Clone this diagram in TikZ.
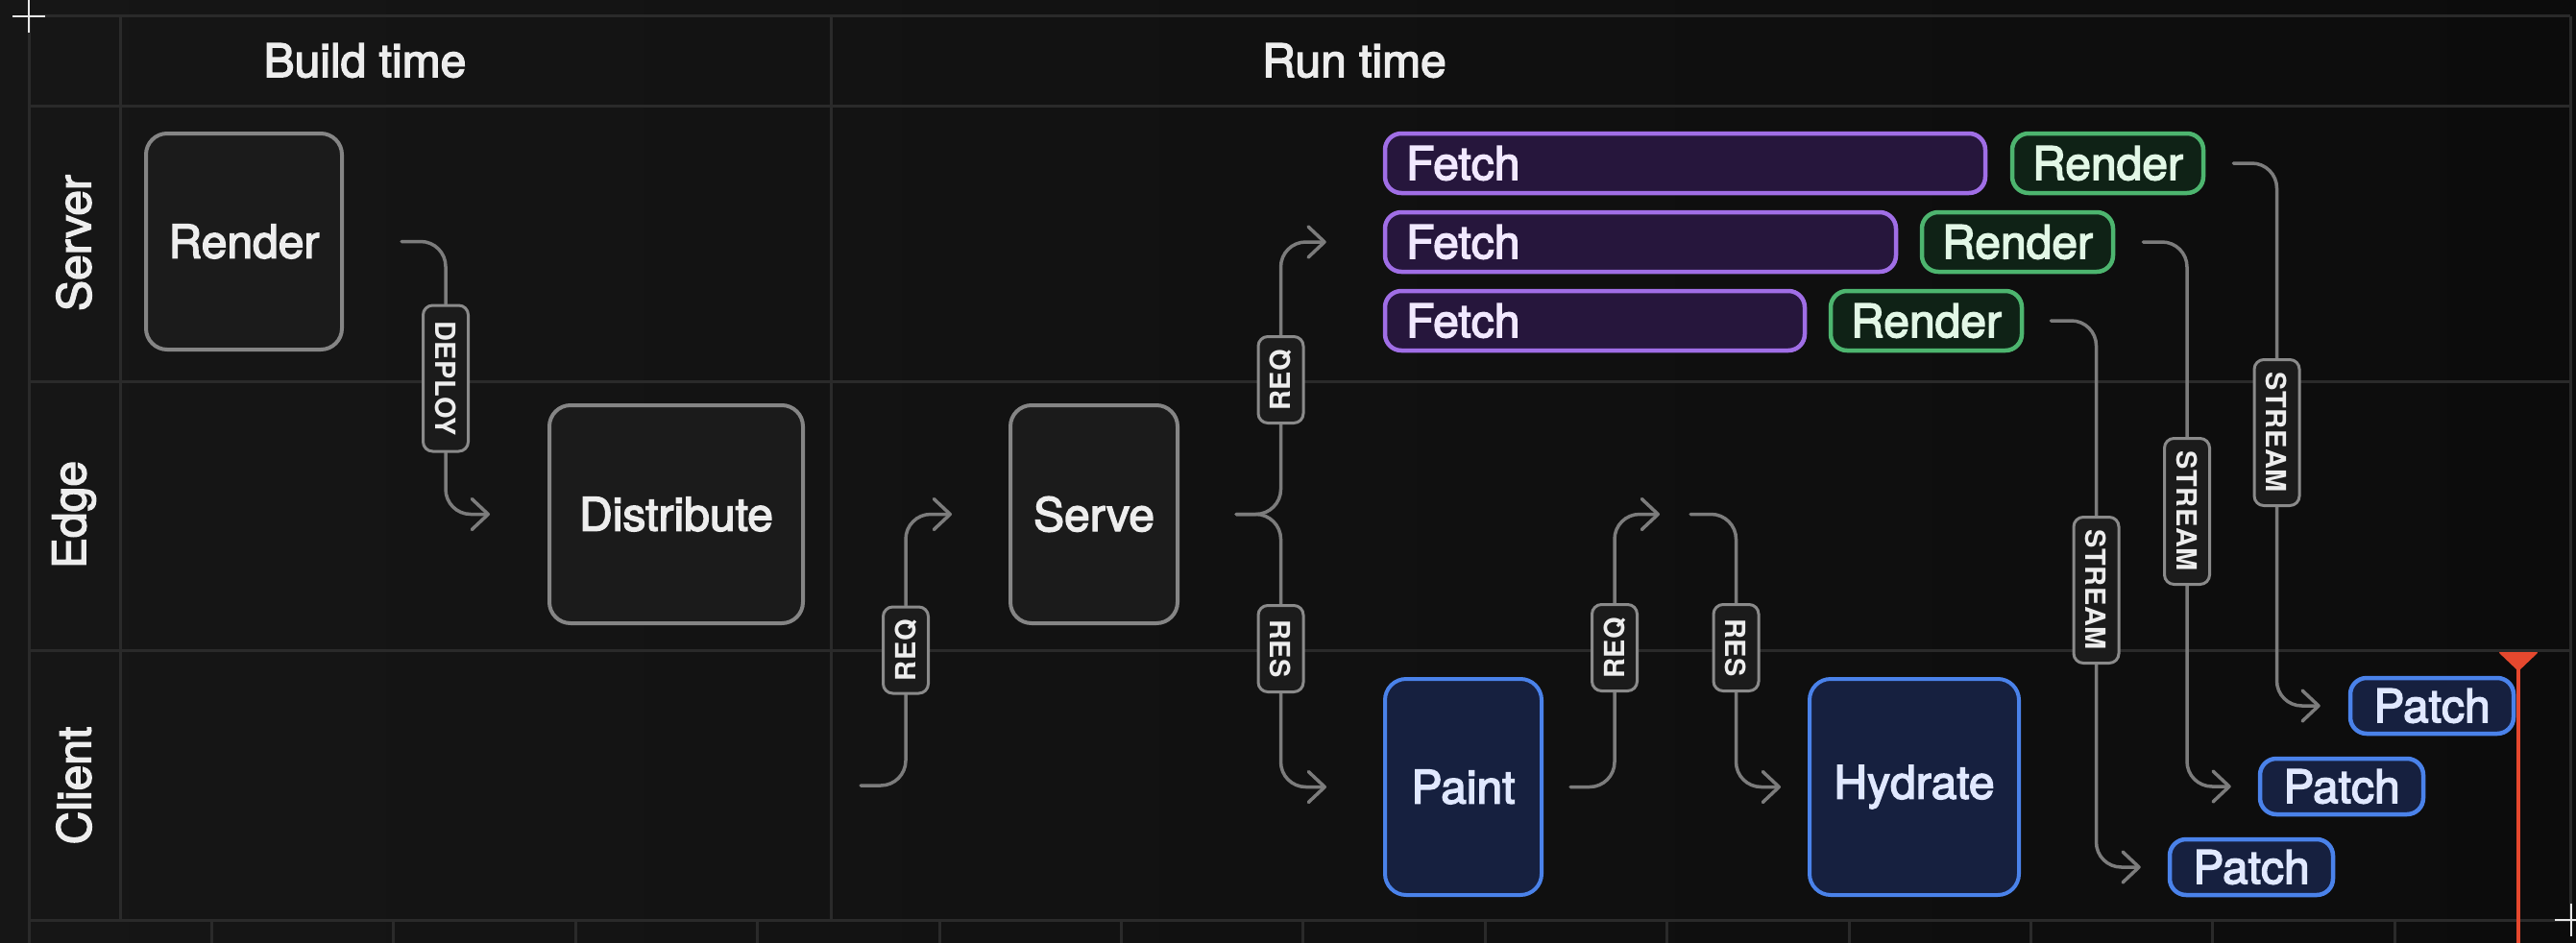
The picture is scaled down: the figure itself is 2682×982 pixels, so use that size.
\documentclass[tikz,border=0pt]{standalone}
\usepackage{fontspec}
\usepackage{graphicx}
\setmainfont{TeX Gyre Heros}
\newfontfamily\medf{TeX Gyre Heros}[FakeBold=3]
\newfontfamily\tagf{TeX Gyre Heros Bold}[LetterSpace=2]
\usetikzlibrary{arrows.meta}
\pgfdeclarelayer{back}
\pgfdeclarelayer{wires}
\pgfsetlayers{back,wires,main}
\definecolor{bgL}{HTML}{161616}
\definecolor{bgR}{HTML}{0C0C0C}
\definecolor{gridc}{HTML}{2A2A2A}
\definecolor{wire}{HTML}{7C7C7C}
\definecolor{grayedge}{HTML}{858585}
\definecolor{tagedge}{HTML}{8A8A8A}
\definecolor{grayfill}{HTML}{1B1B1B}
\definecolor{purpedge}{HTML}{A06EE6}
\definecolor{purpfill}{HTML}{26163C}
\definecolor{greenedge}{HTML}{4DB56F}
\definecolor{greenfill}{HTML}{0F2216}
\definecolor{blueedge}{HTML}{4A82EA}
\definecolor{bluefill}{HTML}{16203F}
\definecolor{redc}{HTML}{E5482E}
\definecolor{txt}{HTML}{EDEDED}
\definecolor{fetchtxt}{HTML}{F1E8FF}
\definecolor{rendertxt}{HTML}{E2F7E6}
\definecolor{bluetxt}{HTML}{E0E8FF}
\definecolor{plusc}{HTML}{E8E8E8}
\newcommand\mytagfont{\tagf\fontsize{29}{34}\selectfont}
\newcommand\mybigfont{\medf\fontsize{48}{58}\selectfont}
\begin{document}
\begin{tikzpicture}[x=1pt,y=-1pt,
  gridline/.style={draw=gridc, line width=3pt},
  bigbox/.style={draw=grayedge, fill=grayfill, line width=4pt, rounded corners=22pt, inner sep=0pt, text=txt, font=\mybigfont},
  clientbox/.style={bigbox, draw=blueedge, fill=bluefill, text=bluetxt},
  fetchbox/.style={draw=purpedge, fill=purpfill, line width=4.5pt, rounded corners=17pt, inner xsep=22pt, inner ysep=0pt, minimum height=62pt, align=left, text=fetchtxt, font=\mybigfont},
  renderbox/.style={draw=greenedge, fill=greenfill, line width=4.5pt, rounded corners=17pt, inner sep=0pt, minimum width=199pt, minimum height=62pt, text=rendertxt, font=\mybigfont},
  patchbox/.style={draw=blueedge, fill=bluefill, line width=4.5pt, rounded corners=17pt, inner sep=0pt, minimum width=170pt, minimum height=58pt, text=bluetxt, font=\mybigfont},
  tag/.style={draw=tagedge, fill=grayfill, line width=3pt, rounded corners=10pt, inner sep=0pt, minimum width=47pt, text=txt, font=\mytagfont},
  shorttag/.style={tag, minimum height=90pt},
  longtag/.style={tag, minimum height=152pt},
  conn/.style={draw=wire, line width=3.5pt, rounded corners=26pt, line cap=round},
  arr/.style={-{Straight Barb[length=17pt,width=32pt,round]}},
  hdr/.style={text=txt, font=\mybigfont, inner sep=0pt}
]
\useasboundingbox (0,0) rectangle (2682,982);
\begin{pgfonlayer}{back}
  \shade[left color=bgL, right color=bgR] (0,0) rectangle (2682,982);
  \foreach \yy in {17,110,397,677} \draw[gridline] (30,\yy) -- (2676,\yy);
  \draw[gridline] (30,958) -- (2682,958);
  \draw[gridline] (30,17) -- (30,982);
  \foreach \xx in {125,865,2676} \draw[gridline] (\xx,17) -- (\xx,958);
  \foreach \i in {1,...,13} \draw[gridline] ({31+189.4*\i},958) -- ({31+189.4*\i},982);
\end{pgfonlayer}

% headers
\node[hdr] (bt) at (380,63) {Build time};
\node[hdr] (rt) at (1410,63) {Run time};
\node[hdr, rotate=90] (srv) at (77,253) {Server};
\node[hdr, rotate=90] (edg) at (77,536) {Edge};
\node[hdr, rotate=90] (cli) at (77,818) {Client};

% main boxes
\node[bigbox, minimum width=204pt, minimum height=225pt] (rb) at (254,251.5) {Render};
\node[bigbox, minimum width=264pt, minimum height=227pt] (dist) at (704,535.5) {Distribute};
\node[bigbox, minimum width=174pt, minimum height=227pt] (serve) at (1139,535.5) {Serve};
\node[clientbox, minimum width=163pt, minimum height=225pt] (paint) at (1523.5,819.5) {Paint};
\node[clientbox, minimum width=218pt, minimum height=225pt] (hyd) at (1993,819.5) {Hydrate};

\node[fetchbox, text width=581pt] (f1) at (1754.5,170) {Fetch};
\node[fetchbox, text width=488pt] (f2) at (1708,252) {Fetch};
\node[fetchbox, text width=393pt] (f3) at (1660.5,334) {Fetch};
\node[renderbox] (r1) at (2194.5,170) {Render};
\node[renderbox] (r2) at (2100.5,252) {Render};
\node[renderbox] (r3) at (2005.5,334) {Render};

\node[patchbox] (p1) at (2532,735) {Patch};
\node[patchbox] (p2) at (2438,819) {Patch};
\node[patchbox] (p3) at (2344,903) {Patch};

% tags
\node[longtag] (dep) at (464,394) {\rotatebox{-90}{DEPLOY}};
\node[shorttag] (reqa) at (943,677) {\rotatebox{90}{REQ}};
\node[shorttag] (reqb) at (1333.5,395.5) {\rotatebox{90}{REQ}};
\node[shorttag] (resa) at (1333.5,675.5) {\rotatebox{-90}{RES}};
\node[shorttag] (reqc) at (1681,674.5) {\rotatebox{90}{REQ}};
\node[shorttag] (resb) at (1807.5,674.5) {\rotatebox{-90}{RES}};
\node[longtag] (sa) at (2370.5,450.5) {\rotatebox{-90}{STREAM}};
\node[longtag] (sb) at (2277,532.5) {\rotatebox{-90}{STREAM}};
\node[longtag] (sc) at (2182.5,614.5) {\rotatebox{-90}{STREAM}};

% free ends
\coordinate (cstart) at (896,818);
\coordinate (cmidl) at (1728,535.5);
\coordinate (cmidr) at (1760,535.5);

\begin{pgfonlayer}{wires}
  \draw[conn, shorten <=60pt] (rb.east) -| (dep.north);
  \draw[conn, arr, shorten >=60pt] (dep.south) |- (dist.west);
  \draw[conn] (cstart) -| (reqa.south);
  \draw[conn, arr, shorten >=59pt] (reqa.north) |- (serve.west);
  \draw[conn, shorten <=59pt] (serve.east) -| (reqb.south);
  \draw[conn, arr, shorten >=59pt] (reqb.north) |- (f2.west);
  \draw[conn, shorten <=59pt] (serve.east) -| (resa.north);
  \draw[conn, arr, shorten >=59pt] (resa.south) |- (paint.west);
  \draw[conn, shorten <=28pt] (paint.east) -| (reqc.south);
  \draw[conn, arr] (reqc.north) |- (cmidl);
  \draw[conn] (cmidr) -| (resb.north);
  \draw[conn, arr, shorten >=28pt] (resb.south) |- (hyd.west);
  \draw[conn, shorten <=29pt] (r1.east) -| (sa.north);
  \draw[conn, arr, shorten >=29pt] (sa.south) |- (p1.west);
  \draw[conn, shorten <=29pt] (r2.east) -| (sb.north);
  \draw[conn, arr, shorten >=28pt] (sb.south) |- (p2.west);
  \draw[conn, shorten <=28pt] (r3.east) -| (sc.north);
  \draw[conn, arr, shorten >=28pt] (sc.south) |- (p3.west);
\end{pgfonlayer}

% time marker
\draw[redc, line width=3.5pt] (2622,690) -- (2622,982);
\fill[redc, rounded corners=2pt] (2601,679) -- (2643,679) -- (2622,699) -- cycle;

% corner marks
\draw[plusc, line width=2.5pt] (13,17) -- (47,17) (30,0) -- (30,34);
\draw[plusc, line width=2.5pt] (2660,958) -- (2694,958) (2677,941) -- (2677,975);
\end{tikzpicture}
\end{document}
